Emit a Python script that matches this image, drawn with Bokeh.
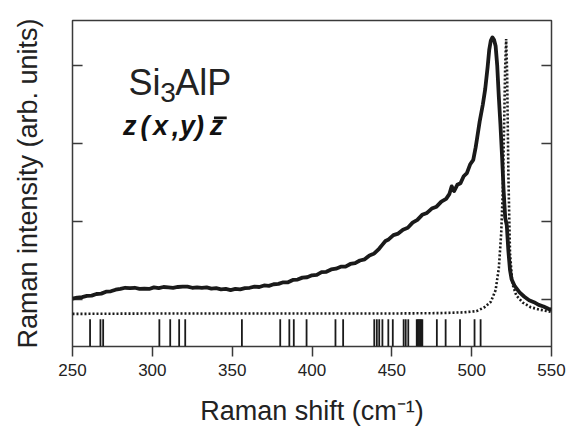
from bokeh.plotting import figure
from bokeh.models import Range1d, FixedTicker, Label, BoxAnnotation, ColumnDataSource
from bokeh.embed import file_html
from bokeh.resources import INLINE

# ---- data ----
x_solid = [250, 253, 256, 259, 262, 265, 268, 271, 274, 277, 280, 283, 286, 289, 292, 295, 298,
           301, 304, 307, 310, 313, 316, 319, 322, 325, 328, 331, 334, 337, 340, 343, 346, 349,
           352, 355, 358, 361, 364, 367, 370, 373, 376, 379, 382, 385, 388, 391, 394, 397, 400,
           403, 406, 409, 412, 415, 418, 421, 424, 427, 430, 433, 436, 439, 442, 444, 446, 448,
           451, 454, 457, 460, 463, 466, 469, 472, 475, 478, 481, 484, 486, 487.5, 489, 491, 493,
           495, 497, 499, 501, 502.5, 503.5, 505, 507, 508.5, 510, 511, 512, 513, 514, 515, 516,
           517, 518, 519, 520, 521, 522, 523, 524, 525, 527, 530, 533, 536, 539, 542, 545, 548,
           550]
y_solid = [1.01, 1.025, 1.03, 1.045, 1.05, 1.07, 1.075, 1.10, 1.105, 1.125, 1.135, 1.15, 1.145,
           1.15, 1.135, 1.14, 1.135, 1.155, 1.145, 1.16, 1.155, 1.15, 1.16, 1.165, 1.165, 1.15,
           1.155, 1.15, 1.155, 1.14, 1.145, 1.13, 1.135, 1.12, 1.135, 1.13, 1.145, 1.15, 1.165,
           1.16, 1.18, 1.175, 1.195, 1.20, 1.22, 1.22, 1.25, 1.255, 1.28, 1.285, 1.31, 1.315,
           1.35, 1.355, 1.385, 1.395, 1.42, 1.42, 1.455, 1.465, 1.50, 1.515, 1.565, 1.59, 1.65,
           1.70, 1.75, 1.77, 1.825, 1.845, 1.895, 1.92, 1.985, 2.02, 2.085, 2.11, 2.165, 2.19,
           2.255, 2.29, 2.35, 2.45, 2.39, 2.47, 2.49, 2.58, 2.62, 2.73, 2.79, 2.95, 3.08, 3.28,
           3.50, 3.70, 3.98, 4.20, 4.32, 4.36, 4.33, 4.25, 4.00, 3.60, 3.25, 2.85, 2.40, 2.05,
           1.95, 1.62, 1.38, 1.26, 1.17, 1.09, 1.035, 0.99, 0.965, 0.93, 0.91, 0.88, 0.87]

x_ref = [250, 300, 350, 400, 450, 480, 495, 503, 508, 512, 515, 517, 518.5, 519.5, 520.3,
         521, 521.6, 522.2, 523, 524, 525.5, 528, 532, 537, 543, 550]
y_ref = [0.815, 0.82, 0.82, 0.82, 0.82, 0.825, 0.835, 0.85, 0.90, 0.97, 1.12, 1.40, 1.85,
         2.40, 3.20, 4.00, 4.34, 3.90, 2.60, 1.60, 1.20, 1.05, 0.96, 0.90, 0.868, 0.84]

stick_positions = [261, 267.5, 269.2, 304.4, 311.2, 316.8, 320.6, 356.1, 380.1, 385.8, 388.6,
                   396.6, 414.7, 419.5, 439.0, 440.6, 442.1, 444.1, 447.8, 450.6, 457.4, 458.7,
                   460.3, 465.6, 466.3, 467.0, 467.7, 468.4, 469.1, 478.2, 483.7, 492.7, 501.8,
                   505.6]

x_ticks = [250, 300, 350, 400, 450, 500, 550]
y_ticks = [1, 2, 3, 4]

X_MIN, X_MAX = 250, 550
Y_MIN, Y_MAX = 0.397, 4.577
STICK_TOP = 0.745
TICK_LEN = 6.3   # inward tick length in x data units (~10 px)

FONT = "Liberation Sans"
INK = "#1a1a1a"
FRAME = "#3a3a3a"

p = figure(width=570, height=429, output_backend="svg", toolbar_location=None,
           x_range=Range1d(X_MIN, X_MAX), y_range=Range1d(Y_MIN, Y_MAX),
           min_border_left=72, min_border_right=19, min_border_top=20, min_border_bottom=83)
p.background_fill_color = "white"
p.border_fill_color = "white"
p.outline_line_color = FRAME
p.outline_line_width = 1.5
p.xgrid.visible = False
p.ygrid.visible = False

# bottom axis
xa = p.xaxis[0]
xa.ticker = FixedTicker(ticks=x_ticks)
xa.minor_tick_line_color = None
xa.major_tick_in = 0
xa.major_tick_out = 10
xa.major_tick_line_color = FRAME
xa.major_tick_line_width = 1.5
xa.axis_line_color = None
xa.major_label_text_font = FONT
xa.major_label_text_font_size = "17px"
xa.major_label_text_color = "#222222"
xa.major_label_standoff = 7
xa.axis_label = "Raman shift (cm\u207b\u00b9)"
xa.axis_label_text_font = FONT
xa.axis_label_text_font_size = "27px"
xa.axis_label_text_font_style = "normal"
xa.axis_label_text_color = "#222222"
xa.axis_label_standoff = 17

# left axis: label only (ticks drawn inward below)
ya = p.yaxis[0]
ya.ticker = FixedTicker(ticks=[])
ya.minor_tick_line_color = None
ya.major_tick_line_color = None
ya.axis_line_color = None
ya.axis_label = "Raman intensity (arb. units)"
ya.axis_label_text_font = FONT
ya.axis_label_text_font_size = "27px"
ya.axis_label_text_font_style = "normal"
ya.axis_label_text_color = "#222222"
ya.axis_label_standoff = 30

# inward ticks on left and right frame edges
tick_src = ColumnDataSource(dict(
    y=y_ticks,
    lx0=[X_MIN] * len(y_ticks), lx1=[X_MIN + TICK_LEN] * len(y_ticks),
    rx0=[X_MAX - TICK_LEN] * len(y_ticks), rx1=[X_MAX] * len(y_ticks)))
p.segment(x0="lx0", y0="y", x1="lx1", y1="y", source=tick_src, line_color=FRAME, line_width=1.5)
p.segment(x0="rx0", y0="y", x1="rx1", y1="y", source=tick_src, line_color=FRAME, line_width=1.5)

# stick markers (calculated modes)
stick_src = ColumnDataSource(dict(x=stick_positions,
                                  y0=[Y_MIN] * len(stick_positions),
                                  y1=[STICK_TOP] * len(stick_positions)))
p.segment(x0="x", y0="y0", x1="x", y1="y1", source=stick_src,
          line_color=INK, line_width=1.8)

# reference (dotted) spectrum
p.line(x_ref, y_ref, line_color=INK, line_width=2.6, line_dash="2 2")

# measured spectrum
p.line(x_solid, y_solid, line_color=INK, line_width=3.8, line_join="round")

# annotation text
p.add_layout(Label(x=285.0, y=3.778, text="Si", text_font=FONT, text_font_size="36px",
                   text_color="#222222", text_baseline="alphabetic"))
p.add_layout(Label(x=305.0, y=3.654, text="3", text_font=FONT, text_font_size="28px",
                   text_color="#222222", text_baseline="alphabetic"))
p.add_layout(Label(x=314.3, y=3.778, text="AlP", text_font=FONT, text_font_size="36px",
                   text_color="#222222", text_baseline="alphabetic"))

chars = ["z", "(", "x", ",", "y", ")", "z"]
char_x = [281.6, 292.6, 300.4, 312.2, 317.4, 326.8, 336.0]
for c, cx in zip(chars, char_x):
    p.add_layout(Label(x=cx, y=3.222, text=c, text_font=FONT, text_font_size="27px",
                       text_font_style="bold italic", text_color="#111111",
                       text_baseline="alphabetic"))
p.add_layout(BoxAnnotation(left=338.6, right=346.6, bottom=3.312, top=3.345,
                           fill_color="#111111", fill_alpha=1.0, line_color=None))

open("out.html", "w").write(file_html(p, INLINE))
